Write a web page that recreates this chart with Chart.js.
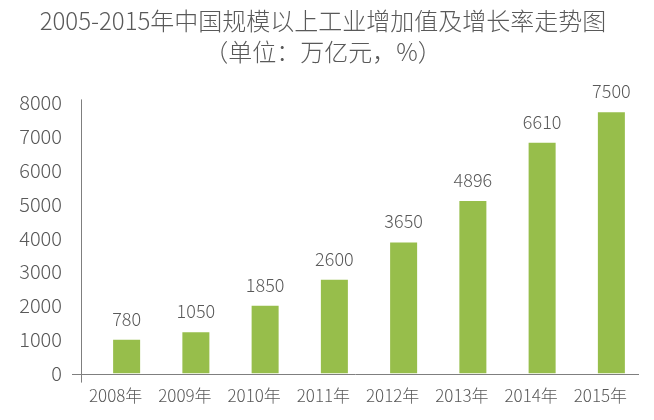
<!DOCTYPE html>
<html>
<head>
<meta charset="utf-8">
<script src="https://cdn.jsdelivr.net/npm/chart.js@4"></script>
<style>
  html, body { margin: 0; padding: 0; background: #fff; }
  #wrap { width: 654px; height: 420px; }
</style>
</head>
<body>
<div id="wrap"><canvas id="chart1"></canvas></div>
<script>
  let years = ['2008年','2009年','2010年','2011年','2012年','2013年','2014年','2015年'];
  // bar heights as drawn in the picture
  let barValues = [1000, 1220, 2000, 2770, 3870, 5090, 6810, 7710];
  // value labels printed above the bars
  let labelTexts = ['780','1050','1850','2600','3650','4896','6610','7500'];
  let yTicks = [0,1000,2000,3000,4000,5000,6000,7000,8000];

  let fontFam = '"Noto Sans CJK SC", "Liberation Sans", sans-serif';
  let textColor = '#595959';

  // draws the axis lines and the labels on top of the bars
  let extras = {
    id: 'extras',
    afterDatasetsDraw(chart) {
      let ctx = chart.ctx;
      let area = chart.chartArea;
      let y = chart.scales.y;
      ctx.save();
      ctx.strokeStyle = '#7f7f7f';
      ctx.lineWidth = 1;
      ctx.beginPath();
      ctx.moveTo(area.left - 10.5, y.getPixelForValue(8000) - 3);
      ctx.lineTo(area.left - 10.5, y.getPixelForValue(0) + 9);
      ctx.moveTo(area.left - 20, Math.round(y.getPixelForValue(0)) + 0.5);
      ctx.lineTo(area.right - 7, Math.round(y.getPixelForValue(0)) + 0.5);
      ctx.stroke();

      ctx.fillStyle = textColor;
      ctx.font = '300 18px ' + fontFam;
      ctx.textAlign = 'center';
      ctx.textBaseline = 'bottom';
      let meta = chart.getDatasetMeta(0);
      for (let i = 0; i < meta.data.length; i++) {
        let bar = meta.data[i];
        ctx.fillText(labelTexts[i], bar.x, bar.y - 12);
      }
      ctx.restore();
    }
  };

  let ctx = document.getElementById('chart1').getContext('2d');
  let myBar = new Chart(ctx, {
    type: 'bar',
    data: {
      labels: years,
      datasets: [{
        data: barValues,
        backgroundColor: '#97be4b',
        barPercentage: 0.39,
        categoryPercentage: 1.0
      }]
    },
    options: {
      responsive: true,
      maintainAspectRatio: false,
      animation: false,
      layout: { padding: { top: 0, right: 8, bottom: 2, left: 0 } },
      plugins: {
        legend: { display: false },
        tooltip: { enabled: false },
        title: {
          display: true,
          text: ['2005-2015年中国规模以上工业增加值及增长率走势图', '（单位：万亿元，%）'],
          color: textColor,
          font: { family: fontFam, size: 24, weight: '300', lineHeight: 1.3 },
          padding: { top: 5, bottom: 35 }
        }
      },
      scales: {
        x: {
          grid: { display: false, drawTicks: false },
          border: { display: false },
          ticks: {
            color: textColor,
            font: { family: fontFam, size: 17, weight: '300' },
            padding: 12,
            labelOffset: -11,
            maxRotation: 0
          }
        },
        y: {
          min: 0,
          max: 8000,
          afterBuildTicks(scale) {
            scale.ticks = yTicks.map(v => ({ value: v }));
          },
          afterFit(scale) { scale.width = 92; },
          grid: { display: false, drawTicks: false },
          border: { display: false },
          ticks: {
            color: textColor,
            font: { family: fontFam, size: 20, weight: '300' },
            padding: 30,
            callback: function(value) { return String(value); }
          }
        }
      }
    },
    plugins: [extras]
  });
</script>
</body>
</html>
